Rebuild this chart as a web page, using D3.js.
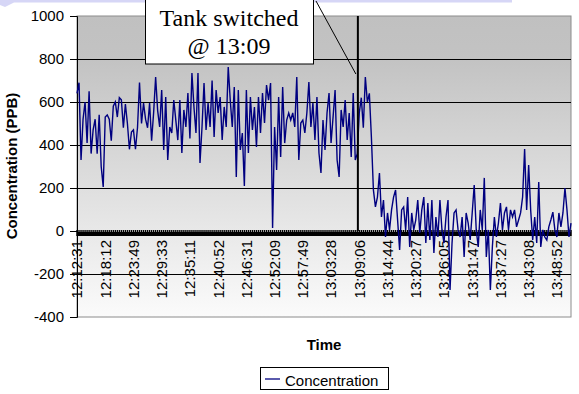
<!DOCTYPE html>
<html>
<head>
<meta charset="utf-8">
<script src="https://cdn.jsdelivr.net/npm/d3@7"></script>
<style>
  body { margin: 0; background: #fff; }
  svg { display: block; }
</style>
</head>
<body>
<div id="chart"></div>
<script>
// concentration readings (PPB), one per sample
const concentration = [
  640, 690, 330, 520, 600, 410, 650, 360, 470, 520, 360, 540, 300, 205,
  530, 540, 520, 420, 580, 600, 530, 620, 610, 480, 590, 500, 380, 460,
  470, 380, 480, 690, 500, 595, 520, 480, 595, 420, 550, 716, 560, 484,
  656, 377, 623, 330, 484, 456, 609, 516, 423, 609, 363, 563, 484, 642,
  430, 735, 577, 456, 735, 316, 484, 688, 470, 595, 484, 700, 437, 656,
  549, 623, 423, 577, 484, 763, 609, 484, 670, 251, 656, 377, 456, 209,
  656, 363, 623, 470, 577, 391, 623, 456, 642, 502, 679, 609, 688, 14,
  484, 284, 623, 344, 670, 409, 516, 549, 516, 549, 484, 716, 330, 502,
  516, 456, 549, 693, 484, 595, 423, 623, 363, 270, 516, 377, 549, 642,
  409, 530, 656, 330, 251, 563, 484, 609, 423, 549, 344, 642, 330, 360,
  550, 620, 480, 716, 600, 640,
  437, 191, 112, 158, 270, 65, 144, -28, 84, 5, 98, 158, 191, 51,
  -88, 98, 112, 5, 158, -74, 84, 5, 51, 144, -9, 98, 158, -56,
  130, -42, 144, -102, 65, -28, 144, 5, -56, 65, 144, -274, -56, 84,
  98, 5, -28, 65, -121, 84, 37, -42, 84, 214, 5, -74, 98, 5,
  247, -121, 5, -274, -74, 65, -28, 37, 130, 5, 84, 112, 5, 98,
  65, 98, 19, 51, 84, 158, 381, 98, 307, 98, -42, 65, -56, 228,
  -74, 5, -28, -42, 19, 51, 88, 5, -28, 84, 19, 84, 200, 98,
  -28, 37
];

// category labels, one every 14 samples
const timeLabels = [
  "12:12:31", "12:18:12", "12:23:49", "12:29:33", "12:35:11", "12:40:52",
  "12:46:31", "12:52:09", "12:57:49", "13:03:28", "13:09:06", "13:14:44",
  "13:20:27", "13:26:05", "13:31:47", "13:37:27", "13:43:08", "13:48:52"
];
const labelEvery = 14;
const switchIndex = 139.3;

const yTicks = [-400, -200, 0, 200, 400, 600, 800, 1000];
const gridValues = [-200, 200, 400, 600, 800];

const plotLeft = 77, plotRight = 571, plotTop = 16, plotBottom = 317;

const xScale = d3.scaleLinear()
.domain([0, concentration.length - 1])
.range([plotLeft, plotRight]);

const yScale = d3.scaleLinear()
.domain([-400, 1000])
.range([plotBottom, plotTop]);

const svg = d3.select("#chart")
.append("svg")
.attr("width", 579)
.attr("height", 394);

const defs = svg.append("defs");
const grad = defs.append("linearGradient")
.attr("id", "bg")
.attr("x1", 0).attr("y1", 0).attr("x2", 0).attr("y2", 1);
grad.append("stop").attr("offset", "0%").attr("stop-color", "#c0c0c0");
grad.append("stop").attr("offset", "15%").attr("stop-color", "#c3c3c3");
grad.append("stop").attr("offset", "100%").attr("stop-color", "#fbfbfb");

// leftover of the slide shape above the chart
svg.append("path")
.attr("d", "M0,0 L512,0 L512,2.5 L14,2.5 L5,7 L0,5 Z")
.attr("fill", "#d6d6f6");

// plot area
svg.append("rect")
.attr("x", plotLeft)
.attr("y", plotTop)
.attr("width", plotRight - plotLeft)
.attr("height", plotBottom - plotTop)
.attr("fill", "url(#bg)")
.attr("stroke", "#8c8c8c")
.attr("stroke-width", 1);

svg.selectAll(".grid")
.data(gridValues)
.join("line")
.attr("class", "grid")
.attr("x1", plotLeft)
.attr("x2", plotRight)
.attr("y1", d => Math.round(yScale(d)) + 0.5)
.attr("y2", d => Math.round(yScale(d)) + 0.5)
.attr("stroke", "#000")
.attr("stroke-width", 1);

// y axis
const yAxis = d3.axisLeft(yScale)
.tickValues(yTicks)
.tickFormat(d => String(d))
.tickSize(7)
.tickPadding(6);

const yg = svg.append("g")
.attr("transform", `translate(${plotLeft},0)`)
.call(yAxis);
yg.select(".domain").attr("stroke", "#000");
yg.selectAll("text")
.attr("font-family", "'Liberation Sans', Arial, sans-serif")
.attr("font-size", 15)
.attr("fill", "#000");

// x axis at zero: dense category ticks make a solid band
const zeroY = yScale(0);
svg.selectAll(".cat-tick")
.data(concentration)
.join("line")
.attr("class", "cat-tick")
.attr("x1", (d, i) => xScale(i))
.attr("x2", (d, i) => xScale(i))
.attr("y1", zeroY - 1)
.attr("y2", zeroY + 5)
.attr("stroke", "#000")
.attr("stroke-width", 1.4);
svg.append("rect")
.attr("x", plotLeft)
.attr("y", zeroY + 1)
.attr("width", plotRight - plotLeft)
.attr("height", 4)
.attr("fill", "#000");

svg.selectAll(".x-label")
.data(timeLabels)
.join("text")
.attr("class", "x-label")
.attr("transform", (d, i) => `translate(${xScale(i * labelEvery)},240) rotate(-90)`)
.attr("text-anchor", "end")
.attr("dy", "0.36em")
.attr("font-family", "'Liberation Sans', Arial, sans-serif")
.attr("font-size", 15)
.attr("fill", "#000")
.text(d => d);

// data line
const line = d3.line()
.x((d, i) => xScale(i))
.y(d => yScale(d));

svg.append("path")
.datum(concentration)
.attr("d", line)
.attr("fill", "none")
.attr("stroke", "#000080")
.attr("stroke-width", 1.4)
.attr("stroke-linejoin", "miter");

// tank switch marker
svg.append("line")
.attr("x1", xScale(switchIndex))
.attr("x2", xScale(switchIndex))
.attr("y1", plotTop)
.attr("y2", zeroY)
.attr("stroke", "#000")
.attr("stroke-width", 2);

svg.append("line")
.attr("x1", 316)
.attr("y1", 1)
.attr("x2", xScale(switchIndex) - 2)
.attr("y2", 74)
.attr("stroke", "#000")
.attr("stroke-width", 1);

svg.append("rect")
.attr("x", 145.5)
.attr("y", -2)
.attr("width", 168)
.attr("height", 66)
.attr("fill", "#fff")
.attr("stroke", "#000")
.attr("stroke-width", 1);

svg.append("text")
.attr("x", 229)
.attr("y", 26)
.attr("text-anchor", "middle")
.attr("font-family", "'Liberation Serif', 'Times New Roman', serif")
.attr("font-size", 24)
.text("Tank switched");

svg.append("text")
.attr("x", 229)
.attr("y", 54)
.attr("text-anchor", "middle")
.attr("font-family", "'Liberation Serif', 'Times New Roman', serif")
.attr("font-size", 24)
.text("@ 13:09");

// axis titles
svg.append("text")
.attr("transform", "translate(17,166) rotate(-90)")
.attr("text-anchor", "middle")
.attr("font-family", "'Liberation Sans', Arial, sans-serif")
.attr("font-size", 15)
.attr("font-weight", "bold")
.text("Concentration (PPB)");

svg.append("text")
.attr("x", 324)
.attr("y", 350)
.attr("text-anchor", "middle")
.attr("font-family", "'Liberation Sans', Arial, sans-serif")
.attr("font-size", 15)
.attr("font-weight", "bold")
.text("Time");

// legend
const legend = svg.append("g").attr("transform", "translate(260,367)");
legend.append("rect")
.attr("x", 0.5)
.attr("y", 0.5)
.attr("width", 128)
.attr("height", 22)
.attr("fill", "#fff")
.attr("stroke", "#000");
legend.append("line")
.attr("x1", 5)
.attr("x2", 20)
.attr("y1", 12)
.attr("y2", 12)
.attr("stroke", "#000080")
.attr("stroke-width", 1.3);
legend.append("text")
.attr("x", 25)
.attr("y", 19)
.attr("font-family", "'Liberation Sans', Arial, sans-serif")
.attr("font-size", 15)
.text("Concentration");
</script>
</body>
</html>
